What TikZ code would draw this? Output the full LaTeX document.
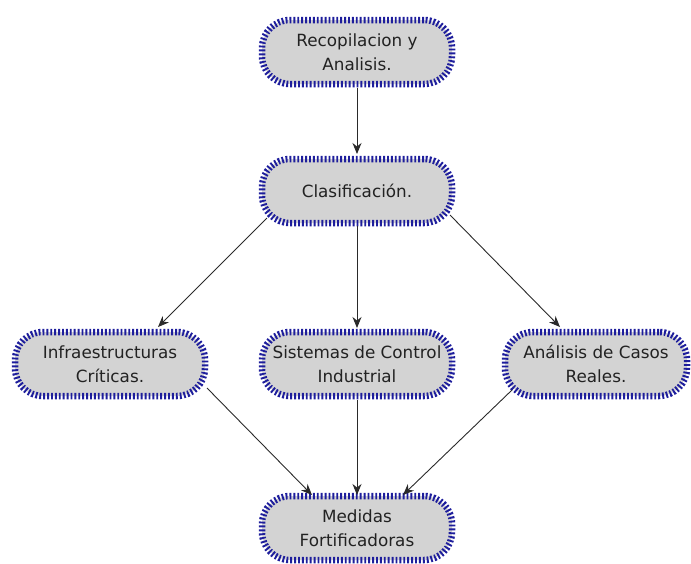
\documentclass[tikz,border=0pt]{standalone}
\usepackage{fontspec}
\setmainfont{DejaVu Sans}
\usetikzlibrary{arrows.meta}
\definecolor{boxfill}{HTML}{D3D3D3}
\definecolor{boxedge}{HTML}{1E1E9C}
\definecolor{linkgray}{HTML}{2A2A2A}
\definecolor{txt}{HTML}{222222}
\tikzset{
  stage/.style={draw=boxedge, fill=boxfill, line width=6.5pt,
    dash pattern=on 1.9pt off 2pt, rounded corners=28pt,
    minimum width=190pt, minimum height=64pt, inner sep=0pt,
    align=center, text=txt, font=\fontsize{16.8}{24.5}\selectfont},
  link/.style={draw=linkgray, line width=0.9pt,
    -{Stealth[length=11pt,width=9pt,inset=3.5pt]}}
}
\begin{document}
\begin{tikzpicture}[x=1pt,y=-1pt]
\useasboundingbox (0,0) rectangle (691,563);

\node[stage] (rec) at (357,52) {Recopilacion y\\Analisis.};
\node[stage] (cla) at (357,191) {Clasificación.};
\node[stage] (inf) at (110,364) {Infraestructuras\\Críticas.};
\node[stage] (sis) at (357,364) {Sistemas de Control\\Industrial};
\node[stage, minimum width=182pt] (ana) at (596,364) {Análisis de Casos\\Reales.};
\node[stage] (med) at (357,528) {Medidas\\Fortificadoras};

\draw[link] ([shift={(0,36)}]rec.center) -- ([shift={(0,-37)}]cla.center);
\draw[link] ([shift={(-90,27)}]cla.center) -- ([shift={(48,-37)}]inf.center);
\draw[link] ([shift={(0,35)}]cla.center) -- ([shift={(0,-36)}]sis.center);
\draw[link] ([shift={(93,24)}]cla.center) -- ([shift={(-36,-37)}]ana.center);
\draw[link] ([shift={(97,24)}]inf.center) -- ([shift={(-45,-33)}]med.center);
\draw[link] ([shift={(0,36)}]sis.center) -- ([shift={(0,-33)}]med.center);
\draw[link] ([shift={(-84,26)}]ana.center) -- ([shift={(46,-33)}]med.center);
\end{tikzpicture}
\end{document}
